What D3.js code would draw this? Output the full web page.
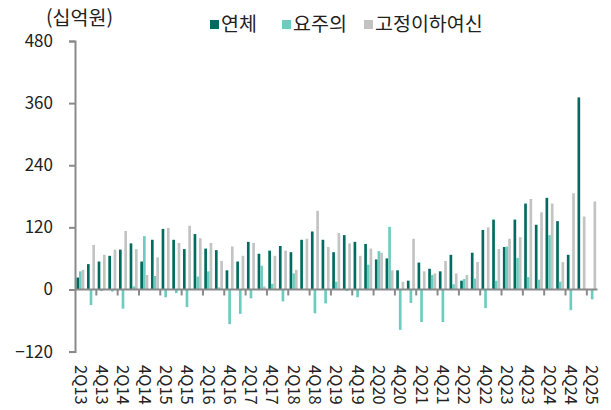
<!DOCTYPE html>
<html lang="ko">
<head>
<meta charset="UTF-8">
<script src="https://cdn.jsdelivr.net/npm/d3@7"></script>
<style>
  body { margin: 0; background: #fff; }
  text { font-family: "Noto Sans CJK KR", "Noto Sans", sans-serif; fill: #222; }
</style>
</head>
<body>
<div id="chart"></div>
<script>
// 분기
var quarters = ["2Q13","3Q13","4Q13",
  "1Q14","2Q14","3Q14","4Q14","1Q15","2Q15","3Q15","4Q15",
  "1Q16","2Q16","3Q16","4Q16","1Q17","2Q17","3Q17","4Q17",
  "1Q18","2Q18","3Q18","4Q18","1Q19","2Q19","3Q19","4Q19",
  "1Q20","2Q20","3Q20","4Q20","1Q21","2Q21","3Q21","4Q21",
  "1Q22","2Q22","3Q22","4Q22","1Q23","2Q23","3Q23","4Q23",
  "1Q24","2Q24","3Q24","4Q24","1Q25","2Q25"];

// 연체
var overdue = [23,49,54,65,77,89,54,96,117,96,78,107,79,76,37,54,92,69,75,84,72,96,112,96,
  72,105,92,88,58,60,37,17,52,40,35,67,17,71,115,135,82,135,166,125,177,132,67,371,0];
// 요주의
var caution = [35,-30,-3,-4,-37,6,103,26,-15,-7,-34,25,35,4,-67,-47,-17,46,11,-23,31,1,-46,-27,
  15,-3,-15,48,74,121,-78,-26,-63,28,-63,10,20,21,-36,17,83,61,24,19,105,15,-40,0,-19];
// 고정이하여신
var substandard = [38,86,67,77,113,78,28,62,119,90,123,99,90,55,83,65,90,6,65,75,38,98,152,82,
  109,89,65,79,71,37,15,98,35,31,55,31,28,53,120,78,98,101,175,149,166,53,186,141,170];

var seriesNames = ["연체", "요주의", "고정이하여신"];
var seriesColors = ["#006b5e", "#6ccdbf", "#c3c3c3"];
var yTicks = [-120, 0, 120, 240, 360, 480];

var width = 611, height = 410;
var svg = d3.select("#chart").append("svg")
  .attr("width", width).attr("height", height);

var x0 = d3.scaleBand().domain(quarters).range([75, 597.5]).padding(0);
var x1 = d3.scaleBand().domain(seriesNames).range([0, x0.bandwidth()])
  .paddingInner(0).paddingOuter(0.5);
var y = d3.scaleLinear().domain([-120, 480]).range([351.6, 41]);

var rows = quarters.map(function (q, i) {
  return { q: q, vals: [overdue[i], caution[i], substandard[i]] };
});

// 막대
var groups = svg.append("g").selectAll("g").data(rows).join("g")
  .attr("transform", function (d) { return "translate(" + x0(d.q) + ",0)"; });
groups.selectAll("rect")
  .data(function (d) { return d.vals.map(function (v, k) { return { v: v, k: k }; }); })
  .join("rect")
  .attr("x", function (d) { return x1(seriesNames[d.k]); })
  .attr("width", x1.bandwidth())
  .attr("y", function (d) { return y(Math.max(0, d.v)); })
  .attr("height", function (d) { return Math.abs(y(d.v) - y(0)); })
  .attr("fill", function (d) { return seriesColors[d.k]; });

// y축
var yAxis = svg.append("g").attr("transform", "translate(75,0)")
  .call(d3.axisLeft(y).tickValues(yTicks).tickSize(6).tickPadding(16)
    .tickFormat(d3.format("d")));
yAxis.select(".domain").attr("stroke", "#8a8a8a").attr("stroke-width", 2);
yAxis.selectAll(".tick line").attr("stroke", "#8a8a8a").attr("stroke-width", 2);
yAxis.selectAll(".tick text").style("font-size", "17px")
  .style("font-family", "'Noto Sans CJK KR', sans-serif").attr("fill", "#222");

// x축
var xAxis = svg.append("g");
xAxis.append("line")
  .attr("x1", 75).attr("x2", 597.5)
  .attr("y1", y(0)).attr("y2", y(0))
  .attr("stroke", "#8a8a8a").attr("stroke-width", 2);
var tickQs = quarters.filter(function (q, i) { return i > 0 && i % 2 === 0; });
xAxis.selectAll("line.tk").data(tickQs).join("line").attr("class", "tk")
  .attr("x1", function (q) { return x0(q); }).attr("x2", function (q) { return x0(q); })
  .attr("y1", y(0)).attr("y2", y(0) + 6)
  .attr("stroke", "#8a8a8a").attr("stroke-width", 2);

var labelQs = quarters.filter(function (q, i) { return i % 2 === 0; });
xAxis.selectAll("text").data(labelQs).join("text")
  .attr("transform", function (q) {
    return "translate(" + (x0(q) + x0.bandwidth() / 2) + ",365) rotate(90)";
  })
  .attr("dy", "0.35em")
  .style("font-size", "16.5px")
  .text(function (q) { return q; });

// 단위
svg.append("text").attr("x", 46).attr("y", 18).attr("dy", "0.35em")
  .style("font-size", "19.5px").text("(십억원)");

// 범례
var legendX = [210, 282, 364];
var legend = svg.append("g").selectAll("g").data(seriesNames).join("g")
  .attr("transform", function (d, i) { return "translate(" + legendX[i] + ",0)"; });
legend.append("rect").attr("x", 0).attr("y", 20).attr("width", 9).attr("height", 9)
  .attr("fill", function (d, i) { return seriesColors[i]; });
legend.append("text").attr("x", 11).attr("y", 24).attr("dy", "0.35em")
  .style("font-size", "19.5px").text(function (d) { return d; });
</script>
</body>
</html>
